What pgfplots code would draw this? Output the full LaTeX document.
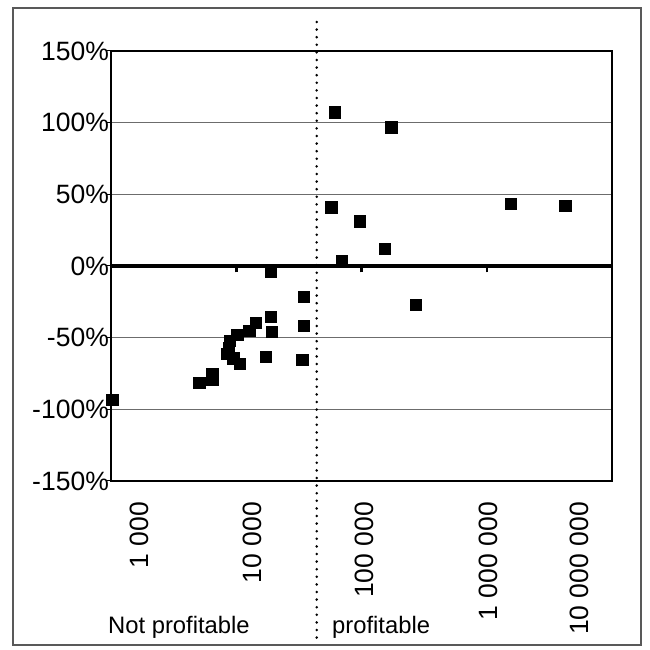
\documentclass[border=0pt]{standalone}
\usepackage{fontspec}
\setmainfont{Liberation Sans}
\usepackage{pgfplots}
\usepackage{pgfplotstable}
\pgfplotsset{compat=1.18}
\newcommand\fs{\fontsize{23.8}{28}\selectfont}
\newcommand\ft{\fontsize{26.5}{30}\selectfont}

\pgfplotstableread{
x y
1025 -93.5
5070 -81.2
6440 -75.5
6440 -79.0
8400 -61.4
8700 -57.0
8900 -52.0
9460 -64.4
10200 -48.1
10700 -68.4
12700 -45.3
14300 -39.5
17300 -63.3
18800 -4.0
18800 -35.4
19200 -46.0
33600 -65.6
34700 -21.4
34700 -41.9
57400 41.0
60700 107.2
69500 3.7
97300 31.2
154000 11.9
173000 96.8
271000 -27.2
1553000 43.3
4236000 41.9
}\data

\begin{document}
\begin{tikzpicture}
\begin{axis}[
  name=ax,
  scale only axis,
  width=501pt, height=430pt,
  xmode=log, xmin=1000, xmax=1e7,
  ymin=-150, ymax=150,
  xtick=\empty, xminorticks=false,
  ytick={-150,-100,-50,0,50,100,150},
  yticklabels={-150\%,-100\%,-50\%,0\%,50\%,100\%,150\%},
  ytick pos=left,
  tick align=outside,
  major tick length=5pt,
  major tick style={line width=1pt, black},
  yticklabel style={font=\ft, inner sep=0pt, anchor=east, xshift=3pt},
  ymajorgrids,
  grid style={line width=1pt, gray!85!black},
  axis line style={line width=1.6pt, black},
  clip=false,
]
\addplot[only marks, mark=square*, mark size=5.6pt, mark options={fill=black, draw=black, line width=0.5pt}] table[x=x, y=y] {\data};
\end{axis}
\begin{axis}[
  scale only axis,
  width=501pt, height=430pt,
  xmode=log, xmin=1000, xmax=1e7,
  ymin=-150, ymax=150,
  axis x line=middle, axis y line=none,
  x axis line style={-, line width=3.6pt, black},
  xtick={1000,10000,100000,1000000,10000000},
  xticklabels={},
  xminorticks=false,
  tick align=outside,
  major tick length=6.5pt,
  major tick style={line width=2.5pt, black},
]
\end{axis}
\begin{scope}[shift={(ax.south west)}]
  \path (-111pt,-169pt) rectangle (538pt,481pt);
  \draw[line width=1.2pt, gray!70!black] (-98pt,-164pt) rectangle (530pt,473pt);
  \draw[line width=2.8pt, line cap=round, dash pattern=on 0pt off 7.6pt] (205.7pt,459pt) -- (205.7pt,-164pt);
  \node[rotate=90, anchor=east, font=\ft, inner sep=0pt] at (28pt,-21pt) {1 000};
  \node[rotate=90, anchor=east, font=\ft, inner sep=0pt] at (141pt,-21pt) {10 000};
  \node[rotate=90, anchor=east, font=\ft, inner sep=0pt] at (253pt,-21pt) {100 000};
  \node[rotate=90, anchor=east, font=\ft, inner sep=0pt] at (377pt,-21pt) {1 000 000};
  \node[rotate=90, anchor=east, font=\ft, inner sep=0pt] at (468pt,-21pt) {10 000 000};
  \node[anchor=base west, font=\fs, inner sep=0pt] at (-3pt,-152pt) {Not profitable};
  \node[anchor=base west, font=\fs, inner sep=0pt] at (221pt,-152pt) {profitable};
\end{scope}
\end{tikzpicture}
\end{document}
